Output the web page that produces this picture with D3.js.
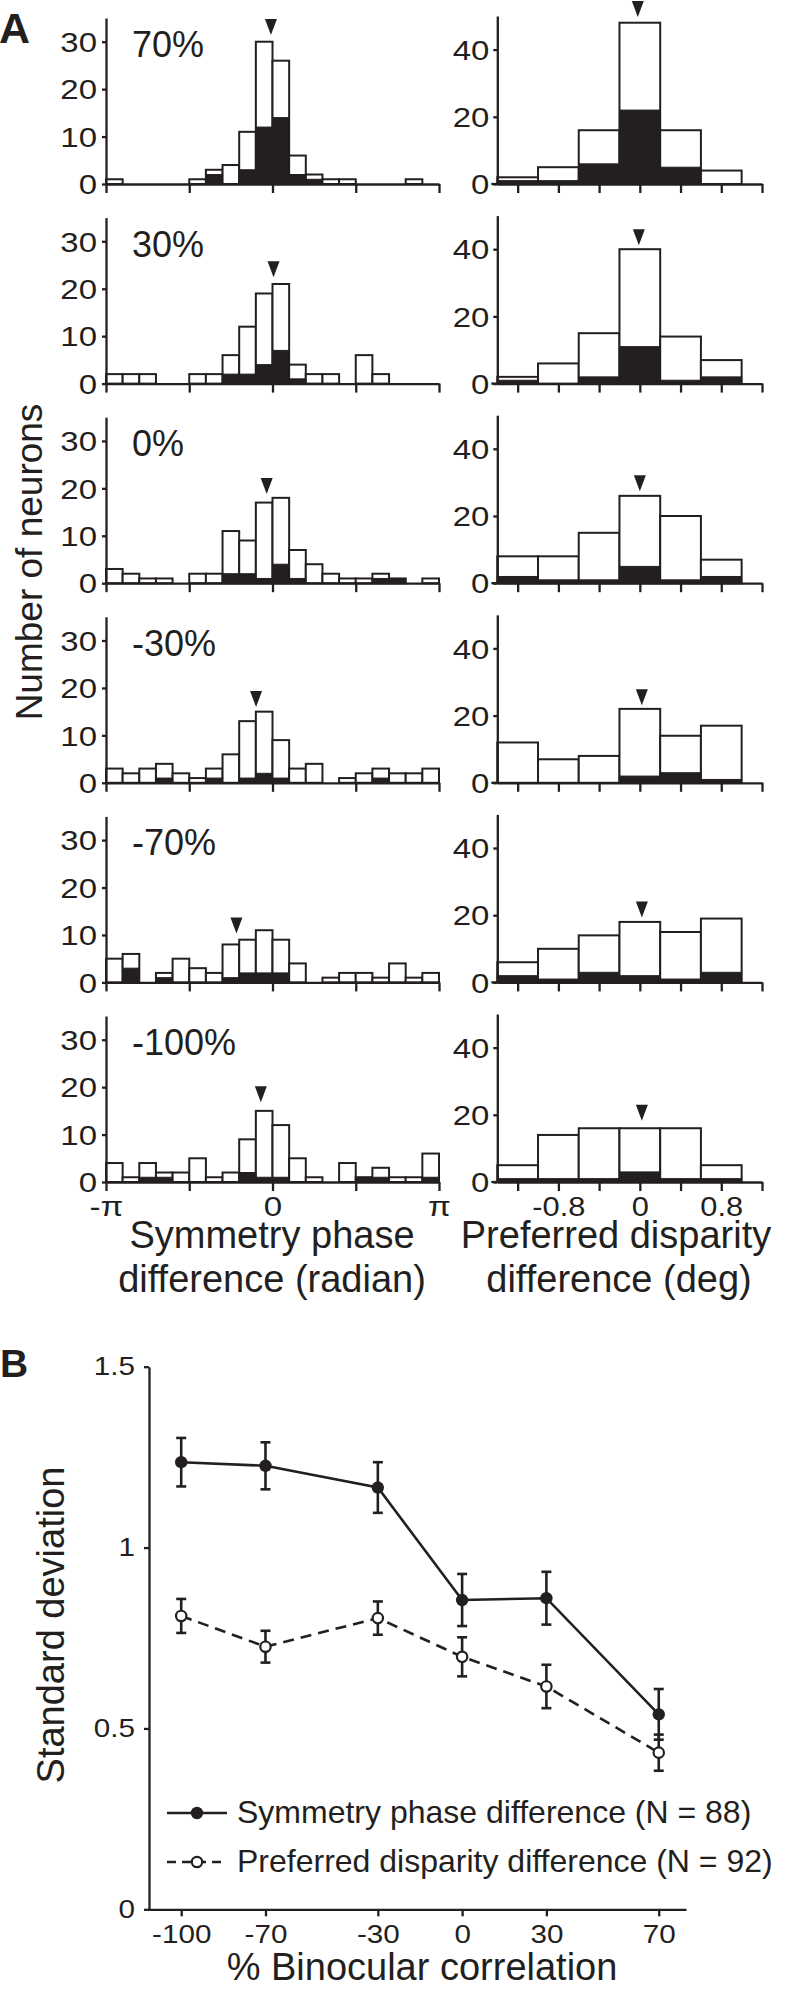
<!DOCTYPE html>
<html><head><meta charset="utf-8">
<script src="https://cdn.jsdelivr.net/npm/d3@7"></script>
<style>
body{margin:0;background:#fff}
svg text{font-family:"Liberation Sans",Arial,Helvetica,sans-serif;fill:#231f20}
</style></head>
<body><svg id="chart" width="794" height="1996"></svg>
<script>
// ---------- DATA ----------
const correlationLabels = ["70%", "30%", "0%", "-30%", "-70%", "-100%"];

// Symmetry phase difference histograms (20 bins from -pi to pi): all neurons / filled subset
const phaseTotal = [
  [1,0,0,0,0,1,3,4,11,30,26,6,2,1,1,0,0,0,1,0],
  [2,2,2,0,0,2,2,6,12,19,21,4,2,2,0,6,2,0,0,0],
  [3,2,1,1,0,2,2,11,9,17,18,7,4,2,1,1,2,1,0,1],
  [3,2,3,4,2,1,3,6,13,15,9,3,4,0,1,2,3,2,2,3],
  [5,6,0,2,5,3,2,8,9,11,9,4,0,1,2,2,1,4,1,2],
  [4,1,4,2,2,5,1,2,9,15,12,5,1,0,4,1,3,1,1,6]
];
const phaseFilled = [
  [0,0,0,0,0,0,2,0,3,12,14,2,1,0,0,0,0,0,0,0],
  [0,0,0,0,0,0,0,2,2,4,7,1,0,0,0,0,0,0,0,0],
  [0,0,0,0,0,0,0,2,2,1,4,1,0,0,0,0,1,1,0,0],
  [0,0,0,1,0,0,1,0,1,2,1,0,0,0,0,0,1,0,0,0],
  [0,3,0,1,0,0,0,1,2,2,2,0,0,0,0,0,0,0,0,0],
  [0,0,1,1,0,0,0,0,2,1,1,0,0,0,0,1,1,0,0,1]
];
const phaseMedian = [-0.03, 0.02, -0.11, -0.31, -0.68, -0.22];
const phaseArrowAt = [31.4, 22.4, 18.8, 16.0, 10.3, 16.8];
const phaseTickValues = [-Math.PI, -Math.PI / 2, 0, Math.PI / 2, Math.PI];
const phaseTickLabels = ["-π", "", "0", "", "π"];
const phaseCountTicks = [0, 10, 20, 30];

// Preferred disparity difference histograms (6 bins of 0.4 deg from -1.4 to 1.0)
const dispBinStart = [-1.4, -1.0, -0.6, -0.2, 0.2, 0.6];
const dispTotal = [
  [2,5,16,48,16,4],
  [2,6,15,40,14,7],
  [8,8,15,26,20,7],
  [12,7,8,22,14,17],
  [6,10,14,18,15,19],
  [5,14,16,16,16,5]
];
const dispFilled = [
  [1,1,6,22,5,0],
  [1,0,2,11,1,2],
  [2,1,1,5,1,2],
  [0,0,0,2,3,1],
  [2,1,3,2,1,3],
  [1,1,1,3,1,1]
];
const dispMedian = [-0.02, -0.01, 0.0, 0.02, 0.02, 0.02];
const dispArrowAt = [49.7, 41.2, 27.4, 23.1, 19.3, 18.2];
const dispTickValues = [-1.2, -0.8, -0.4, 0, 0.4, 0.8, 1.2];
const dispTickLabels = ["", "-0.8", "", "0", "", "0.8", ""];
const dispCountTicks = [0, 20, 40];

// Panel B
const bCorrelation = [-100, -70, -30, 0, 30, 70];
const symmetrySD = [1.236, 1.226, 1.166, 0.855, 0.86, 0.539];
const symmetryErr = [0.067, 0.065, 0.07, 0.072, 0.073, 0.07];
const disparitySD = [0.811, 0.726, 0.805, 0.698, 0.616, 0.433];
const disparityErr = [0.047, 0.044, 0.046, 0.054, 0.06, 0.05];
const bYTicks = [0, 0.5, 1, 1.5];
const bYTickLabels = ["0", "0.5", "1", "1.5"];
const legendLabels = ["Symmetry phase difference (N = 88)", "Preferred disparity difference (N = 92)"];

// ---------- DRAWING ----------
const INK = "#231f20";
const svg = d3.select("#chart");
svg.append("rect").attr("width", 794).attr("height", 1996).attr("fill", "#fff");

const xL = d3.scaleLinear().domain([-Math.PI, Math.PI]).range([106, 439]);
const xR = d3.scaleLinear().domain([-1.4, 1.2]).range([497.3, 762]);
const phaseBinW = 2 * Math.PI / 20;

function stretch(sel, f) {
  sel.each(function () {
    const L = this.getComputedTextLength();
    if (L > 0) d3.select(this).attr("textLength", L * f).attr("lengthAdjust", "spacingAndGlyphs");
  });
}

function styleAxis(g, fs, f) {
  g.selectAll("path.domain").attr("stroke", INK).attr("stroke-width", 2.3);
  g.selectAll(".tick line").attr("stroke", INK).attr("stroke-width", 2.3);
  g.attr("font-family", null).attr("font-size", null);
  const t = g.selectAll(".tick text").attr("font-size", fs).attr("fill", INK);
  stretch(t, f);
}

function triangle(g, cx, tipY) {
  g.append("path")
    .attr("d", `M${cx - 6},${tipY - 16}L${cx + 6},${tipY - 16}L${cx},${tipY}Z`)
    .attr("fill", INK);
}

correlationLabels.forEach((lab, i) => {
  const base = 184 + i * 199.6;
  const yL = d3.scaleLinear().domain([0, 35]).range([base, base - 166]);
  const yR = d3.scaleLinear().domain([0, 50]).range([base, base - 168]);
  const isLast = i === correlationLabels.length - 1;

  // ----- left histogram -----
  const gl = svg.append("g");
  const binsL = phaseTotal[i].map((t, j) => ({
    x0: -Math.PI + j * phaseBinW, x1: -Math.PI + (j + 1) * phaseBinW,
    total: t, filled: phaseFilled[i][j]
  }));
  gl.selectAll("rect.tot").data(binsL.filter(d => d.total > 0)).join("rect")
    .attr("x", d => xL(d.x0)).attr("width", d => xL(d.x1) - xL(d.x0))
    .attr("y", d => yL(d.total)).attr("height", d => base - yL(d.total))
    .attr("fill", "#fff").attr("stroke", INK).attr("stroke-width", 2);
  gl.selectAll("rect.fil").data(binsL.filter(d => d.filled > 0)).join("rect")
    .attr("x", d => xL(d.x0)).attr("width", d => xL(d.x1) - xL(d.x0))
    .attr("y", d => yL(d.filled)).attr("height", d => base - yL(d.filled))
    .attr("fill", INK).attr("stroke", INK).attr("stroke-width", 1);

  const ayL = gl.append("g").attr("transform", "translate(106,0)")
    .call(d3.axisLeft(yL).tickValues(phaseCountTicks).tickSize(4).tickSizeOuter(0).tickPadding(5));
  styleAxis(ayL, 27, 1.22);
  ayL.selectAll(".tick text").attr("dy", "0.36em");
  const axL = gl.append("g").attr("transform", `translate(0,${base})`)
    .call(d3.axisBottom(xL).tickValues(phaseTickValues).tickSize(9).tickSizeOuter(0).tickPadding(5)
      .tickFormat((d, k) => isLast ? phaseTickLabels[k] : ""));
  styleAxis(axL, 28, 1.18);

  triangle(gl, xL(phaseMedian[i]), yL(phaseArrowAt[i]));

  gl.append("text").attr("x", 132).attr("y", base - 127)
    .attr("font-size", 36).text(lab);

  // ----- right histogram -----
  const gr = svg.append("g");
  const binsR = dispTotal[i].map((t, j) => ({
    x0: dispBinStart[j], x1: dispBinStart[j] + 0.4, total: t, filled: dispFilled[i][j]
  }));
  gr.selectAll("rect.tot").data(binsR.filter(d => d.total > 0)).join("rect")
    .attr("x", d => xR(d.x0)).attr("width", d => xR(d.x1) - xR(d.x0))
    .attr("y", d => yR(d.total)).attr("height", d => base - yR(d.total))
    .attr("fill", "#fff").attr("stroke", INK).attr("stroke-width", 2);
  gr.selectAll("rect.fil").data(binsR.filter(d => d.filled > 0)).join("rect")
    .attr("x", d => xR(d.x0)).attr("width", d => xR(d.x1) - xR(d.x0))
    .attr("y", d => yR(d.filled)).attr("height", d => base - yR(d.filled))
    .attr("fill", INK).attr("stroke", INK).attr("stroke-width", 1);

  const ayR = gr.append("g").attr("transform", `translate(${xR(-1.4)},0)`)
    .call(d3.axisLeft(yR).tickValues(dispCountTicks).tickSize(4).tickSizeOuter(0).tickPadding(4));
  styleAxis(ayR, 27, 1.22);
  ayR.selectAll(".tick text").attr("dy", "0.36em");
  const axR = gr.append("g").attr("transform", `translate(0,${base})`)
    .call(d3.axisBottom(xR).tickValues(dispTickValues).tickSize(9).tickSizeOuter(0).tickPadding(5)
      .tickFormat((d, k) => isLast ? dispTickLabels[k] : ""));
  styleAxis(axR, 28, 1.1);
  gr.append("line").attr("x1", xR(-1.4) - 6).attr("x2", xR(-1.4))
    .attr("y1", base).attr("y2", base).attr("stroke", INK).attr("stroke-width", 2.3);

  triangle(gr, xR(dispMedian[i]), yR(dispArrowAt[i]));
});

// panel A labels
svg.append("text").attr("x", -1).attr("y", 43).attr("font-size", 43).attr("font-weight", "bold").text("A");
svg.append("text").attr("transform", "translate(42,562) rotate(-90)").attr("text-anchor", "middle")
  .attr("font-size", 37).text("Number of neurons");
svg.append("text").attr("x", 272).attr("y", 1248).attr("text-anchor", "middle").attr("font-size", 38).text("Symmetry phase");
svg.append("text").attr("x", 272).attr("y", 1292).attr("text-anchor", "middle").attr("font-size", 38).text("difference (radian)");
svg.append("text").attr("x", 616).attr("y", 1248).attr("text-anchor", "middle").attr("font-size", 38).text("Preferred disparity");
svg.append("text").attr("x", 619).attr("y", 1292).attr("text-anchor", "middle").attr("font-size", 38).text("difference (deg)");

// ---------- PANEL B ----------
const xB = d3.scaleLinear().domain([-112, 79.7]).range([147.5, 686]);
const yB = d3.scaleLinear().domain([0, 1.5]).range([1909.3, 1366.7]);
const gB = svg.append("g");

const axB = gB.append("g").attr("transform", "translate(0,1909.3)")
  .call(d3.axisBottom(xB).tickValues(bCorrelation).tickSize(7).tickSizeOuter(0).tickPadding(8)
    .tickFormat(d => String(d)));
styleAxis(axB, 26, 1.14);
const ayB = gB.append("g").attr("transform", "translate(149,0)")
  .call(d3.axisLeft(yB).tickValues(bYTicks).tickSize(5).tickSizeOuter(0).tickPadding(9)
    .tickFormat((d, k) => bYTickLabels[k]));
styleAxis(ayB, 26, 1.14);
ayB.selectAll(".tick text").attr("dy", "0.3em");

const symPts = bCorrelation.map((c, k) => ({ c, v: symmetrySD[k], e: symmetryErr[k] }));
const dispPts = bCorrelation.map((c, k) => ({ c, v: disparitySD[k], e: disparityErr[k] }));
const line = d3.line().x(d => xB(d.c)).y(d => yB(d.v));

gB.append("path").datum(dispPts).attr("d", line).attr("fill", "none")
  .attr("stroke", INK).attr("stroke-width", 2.6).attr("stroke-dasharray", "11,7");
gB.append("path").datum(symPts).attr("d", line).attr("fill", "none")
  .attr("stroke", INK).attr("stroke-width", 2.6);

function errorBars(pts) {
  const g = gB.append("g").attr("stroke", INK).attr("stroke-width", 2.6);
  pts.forEach(d => {
    const x = xB(d.c);
    g.append("line").attr("x1", x).attr("x2", x).attr("y1", yB(d.v - d.e)).attr("y2", yB(d.v + d.e));
    g.append("line").attr("x1", x - 5).attr("x2", x + 5).attr("y1", yB(d.v - d.e)).attr("y2", yB(d.v - d.e));
    g.append("line").attr("x1", x - 5).attr("x2", x + 5).attr("y1", yB(d.v + d.e)).attr("y2", yB(d.v + d.e));
  });
}
errorBars(dispPts);
errorBars(symPts);

gB.selectAll("circle.disp").data(dispPts).join("circle")
  .attr("cx", d => xB(d.c)).attr("cy", d => yB(d.v)).attr("r", 5.2)
  .attr("fill", "#fff").attr("stroke", INK).attr("stroke-width", 2.2);
gB.selectAll("circle.sym").data(symPts).join("circle")
  .attr("cx", d => xB(d.c)).attr("cy", d => yB(d.v)).attr("r", 6.2).attr("fill", INK);

// legend
const legY = [1813, 1862];
gB.append("line").attr("x1", 167).attr("x2", 227).attr("y1", legY[0]).attr("y2", legY[0])
  .attr("stroke", INK).attr("stroke-width", 2.6);
gB.append("circle").attr("cx", 197).attr("cy", legY[0]).attr("r", 6.2).attr("fill", INK);
gB.append("line").attr("x1", 167).attr("x2", 227).attr("y1", legY[1]).attr("y2", legY[1])
  .attr("stroke", INK).attr("stroke-width", 2.6).attr("stroke-dasharray", "9,6");
gB.append("circle").attr("cx", 197).attr("cy", legY[1]).attr("r", 5.2)
  .attr("fill", "#fff").attr("stroke", INK).attr("stroke-width", 2.2);
legendLabels.forEach((t, k) => {
  gB.append("text").attr("x", 237).attr("y", legY[k] + 10).attr("font-size", 32).text(t);
});

svg.append("text").attr("x", 0).attr("y", 1377).attr("font-size", 39).attr("font-weight", "bold").text("B");
svg.append("text").attr("transform", "translate(64,1625) rotate(-90)").attr("text-anchor", "middle")
  .attr("font-size", 38).text("Standard deviation");
svg.append("text").attr("x", 422).attr("y", 1980).attr("text-anchor", "middle")
  .attr("font-size", 38).text("% Binocular correlation");
</script></body></html>
